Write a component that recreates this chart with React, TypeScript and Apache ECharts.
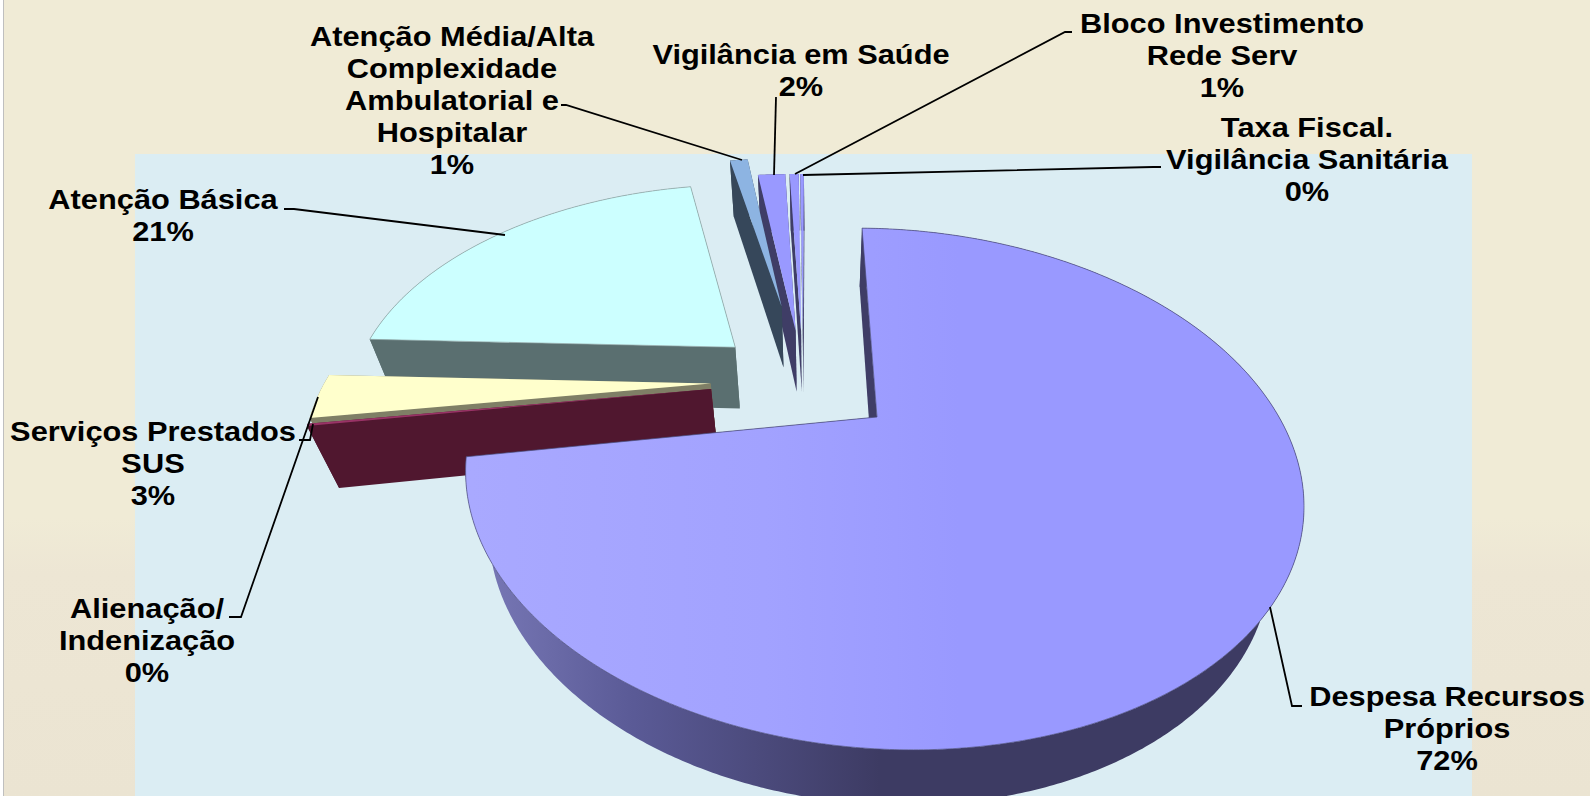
import React, { useEffect, useRef } from "react";
import * as echarts from "echarts";

// ---------- data ----------
const names = [
  "Despesa Recursos\nPróprios",
  "Alienação/\nIndenização",
  "Serviços Prestados\nSUS",
  "Atenção Básica",
  "Atenção Média/Alta\nComplexidade\nAmbulatorial e\nHospitalar",
  "Vigilância em Saúde",
  "Bloco Investimento\nRede Serv",
  "Taxa Fiscal.\nVigilância Sanitária",
];
const values = [72.2, 0.15, 3, 21.45, 1, 1.5, 0.5, 0.2];
const explode = [0.24, 0.24, 0.24, 0.24, 0.37, 0.24, 0.24, 0.24];
const topColors = ["#9999FF", "#993366", "#FFFFCC", "#CCFFFF", "#8DB4E2", "#9999FF", "#9999FF", "#9999FF"];
const sideColors = ["#3F3D66", "#50172F", "#7F7F66", "#5A6F70", "#36475A", "#3F3D66", "#3F3D66", "#3F3D66"];
const drawOrder = [7, 6, 5, 4, 3, 2, 1, 0];
const firstSliceAngle = 1;

// ---------- layout (label centres and leader lines) ----------
const labelCenters: number[][] = [
  [1447, 729], [147, 641], [153, 464], [163, 216], [452, 101], [801, 71], [1222, 56], [1307, 160],
];
const leaders: number[][][] = [
  [[1302, 706], [1292, 706], [1270, 607]],
  [[229, 617], [241, 617], [318, 397]],
  [[299, 440], [310, 440], [313, 424]],
  [[284, 209], [294, 209], [505, 235]],
  [[561, 105], [566, 105], [742, 160]],
  [[776, 97], [774, 175]],
  [[1072, 32], [1065, 32], [795, 174]],
  [[1161, 167], [1153, 167], [803, 175]],
];

// ---------- projection of the tilted disc ----------
const CAM = { cx: 877, cy: 417, a: 402, b: 241, s: 0.065, k: 0.276, m: 0.067, hx: -4.2, hy: 66 };
function project(u: number, v: number, h: number): number[] {
  const D = 1 - CAM.k * v + CAM.m * h;
  return [
    CAM.cx + (CAM.a * (u + CAM.s * v) + CAM.hx * h) / D,
    CAM.cy + (CAM.b * v + CAM.hy * h) / D,
  ];
}
const dir = (deg: number) => {
  const r = (deg * Math.PI) / 180;
  return [Math.sin(r), -Math.cos(r)];
};

const total = values.reduce((a, b) => a + b, 0);
const angles: number[][] = [];
values.reduce((acc, v) => {
  angles.push([firstSliceAngle + (acc / total) * 360, firstSliceAngle + ((acc + v) / total) * 360]);
  return acc + v;
}, 0);
const mainDir = dir((angles[0][0] + angles[0][1]) / 2);
const origin = [-explode[0] * mainDir[0], -explode[0] * mainDir[1]];

function renderSlice(_: any, api: any) {
  const i = api.value(0);
  const [t0, t1] = angles[i];
  const d = dir((t0 + t1) / 2);
  const ou = origin[0] + explode[i] * d[0];
  const ov = origin[1] + explode[i] * d[1];
  const rim: number[][] = [];
  const n = Math.max(2, Math.ceil(t1 - t0) * 2);
  for (let j = 0; j <= n; j++) {
    const p = dir(t0 + ((t1 - t0) * j) / n);
    rim.push([ou + p[0], ov + p[1]]);
  }
  const top = rim.map((p) => project(p[0], p[1], 0));
  const bottom = rim.map((p) => project(p[0], p[1], 1));
  const apexT = project(ou, ov, 0);
  const apexB = project(ou, ov, 1);
  const isMain = i === 0;
  const topFill: any = isMain
    ? new echarts.graphic.LinearGradient(470, 0, 960, 0, [
        { offset: 0, color: "#A9A9FF" },
        { offset: 0.6, color: "#A2A2FF" },
        { offset: 1, color: "#9999FF" },
      ], true)
    : topColors[i];
  const sideFill: any = isMain
    ? new echarts.graphic.LinearGradient(470, 0, 880, 0, [
        { offset: 0, color: "#7A7AB8" },
        { offset: 0.4, color: "#5A5A96" },
        { offset: 1, color: "#3D3B63" },
      ], true)
    : sideColors[i];
  const poly = (points: number[][], fill: any, stroke?: string, lw = 0.7) => ({
    type: "polygon",
    shape: { points },
    style: { fill, stroke: stroke || fill, lineWidth: stroke ? lw : 0 },
  });
  const strokeColor = i === 3 ? "#8FA3A3" : isMain ? "#4A4A7A" : undefined;
  return {
    type: "group",
    children: [
      poly([apexT, top[n], bottom[n], apexB], sideColors[i]),
      poly([...top, ...[...bottom].reverse()], sideFill),
      poly([apexT, top[0], bottom[0], apexB], sideColors[i]),
      poly([apexT, ...top], topFill, strokeColor),
    ],
  };
}

const labelText = (i: number) => `${names[i]}\n${Math.round(values[i])}%`;

export default function App() {
  const ref = useRef<HTMLDivElement>(null);
  useEffect(() => {
    document.body.style.margin = "0";
    const chart = echarts.init(ref.current!, undefined, { renderer: "svg" });
    const graphic: any[] = [
      {
        type: "rect", z: 0, shape: { x: 0, y: 0, width: 1590, height: 796 },
        style: {
          fill: new echarts.graphic.LinearGradient(0, 0, 0, 1, [
            { offset: 0, color: "#F0EBD6" },
            { offset: 0.65, color: "#F0EBD6" },
            { offset: 0.72, color: "#EDE6D4" },
            { offset: 1, color: "#EBE4D2" },
          ]),
        },
      },
      { type: "rect", z: 0, shape: { x: 0, y: 0, width: 3, height: 796 }, style: { fill: "#FFFFFF" } },
      { type: "rect", z: 0, shape: { x: 3, y: 0, width: 1, height: 796 }, style: { fill: "#BFBFBF" } },
      { type: "rect", z: 0, shape: { x: 135, y: 154, width: 1337, height: 642 }, style: { fill: "#DBEDF3" } },
    ];
    leaders.forEach((pts) => {
      graphic.push({
        type: "polyline", z: 10, shape: { points: pts },
        style: { stroke: "#000", lineWidth: 1.8, fill: "none" },
      });
    });
    names.forEach((_, i) => {
      graphic.push({
        type: "text", z: 11, x: labelCenters[i][0], y: labelCenters[i][1], scaleX: 1.12,
        style: {
          text: labelText(i), fill: "#000", align: "center", verticalAlign: "middle",
          font: 'bold 27.5px "Liberation Sans", Arial, sans-serif', lineHeight: 32,
        },
      });
    });
    chart.setOption({
      animation: false,
      graphic,
      series: [
        {
          type: "custom", coordinateSystem: "none", silent: true, z: 5,
          renderItem: renderSlice,
          data: drawOrder.map((i) => [i, values[i]]),
        },
      ],
    });
    return () => chart.dispose();
  }, []);
  return <div ref={ref} style={{ width: 1590, height: 796 }} />;
}
